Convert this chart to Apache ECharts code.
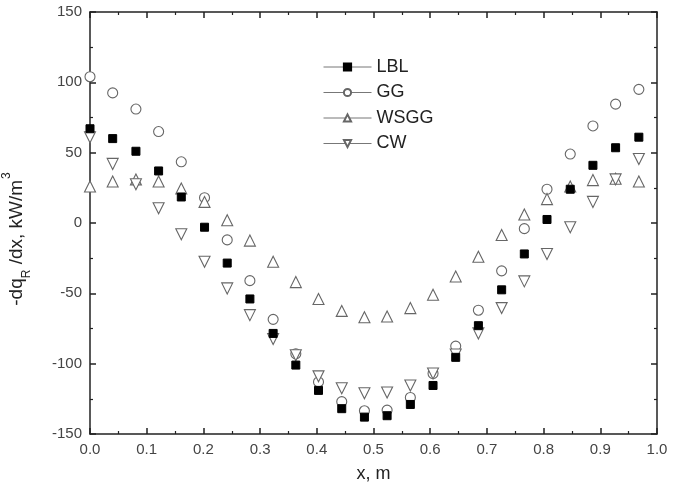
<!DOCTYPE html>
<html>
<head>
<meta charset="utf-8">
<script src="https://cdn.jsdelivr.net/npm/echarts@6/dist/echarts.min.js"></script>
<style>html,body{margin:0;padding:0;background:#fff}#chart{width:677px;height:492px}</style>
</head>
<body>
<div id="chart"></div>
<script>
// positions along x, m
var xPos=[0.0,0.040,0.081,0.121,0.161,0.202,0.242,0.282,0.323,0.363,0.403,0.444,0.484,0.524,0.565,0.605,0.645,0.685,0.726,0.766,0.806,0.847,0.887,0.927,0.968];
var lbl=[67,60,51,37,18.5,-3,-28.5,-54,-78.5,-101,-119,-132,-138,-137,-129,-115.5,-95.5,-73,-47.5,-22,2.5,24,41,53.5,61];
var gg=[104,92.5,81,65,43.5,18,-12,-41,-68.5,-93,-113,-127,-133.5,-133,-124,-107,-87.5,-62,-34,-4,24,49,69,84.5,95];
var wsgg=[26,29.5,31,29.5,24.5,15,2,-12.5,-27.5,-42,-54,-62.5,-67,-66.5,-60.5,-51,-38,-24,-8.5,6,17,26,30.5,31.5,29.5];
var cw=[61,42,27.5,10.5,-8,-27.5,-46.5,-65.5,-82.5,-94,-109,-117.5,-121,-120.5,-115.5,-107,-93.5,-78.5,-60.5,-41.5,-22,-3,15,31,45.5];
var seriesNames=['LBL','GG','WSGG','CW'];

function pairs(ys){
    var out=[];
    for(var i=0;i<ys.length;i++){ out.push([xPos[i],ys[i]]); }
    return out;
}

var chart=echarts.init(document.getElementById('chart'));
var font='"Liberation Sans", Arial, sans-serif';
var axisLineStyle={color:'#222',width:1.5};
var tick={inside:true,length:6,lineStyle:axisLineStyle};
var minor={show:true,splitNumber:2,length:3,lineStyle:{color:'#222',width:1.2}};

function mkSeries(name,ys,symbol,size,filled,rot){
    return {
        name:name,
        type:'line',
        data:pairs(ys),
        symbol:symbol,
        symbolSize:size,
        symbolRotate:rot||0,
        showAllSymbol:true,
        lineStyle:{opacity:0},
        itemStyle:filled?{color:'#000',borderColor:'#000',borderWidth:1}:{color:'#fff',borderColor:'#666',borderWidth:1.1},
        emphasis:{disabled:true},
        z:filled?3:2
    };
}

var options={
    animation:false,
    textStyle:{fontFamily:font},
    grid:{left:90,right:20,top:12,bottom:58,containLabel:false,outerBoundsMode:'none'},
    legend:{
        data:seriesNames,
        orient:'vertical',
        left:323,
        top:58,
        padding:0,
        itemWidth:48,
        itemHeight:9,
        itemGap:7.5,
        textStyle:{fontSize:18,color:'#222',fontFamily:font},
        lineStyle:{color:'#777',width:1,opacity:1}
    },
    xAxis:[{
        type:'value',min:0,max:1,interval:0.1,
        name:'x, m',nameLocation:'middle',nameGap:31,
        nameTextStyle:{fontSize:18,color:'#222'},
        axisLine:{onZero:false,lineStyle:axisLineStyle},
        axisTick:tick,minorTick:minor,
        axisLabel:{fontSize:15,color:'#444',margin:8,formatter:function(v){return v.toFixed(1);}},
        splitLine:{show:false}
    },{
        type:'value',min:0,max:1,interval:0.1,position:'top',
        axisLine:{onZero:false,lineStyle:axisLineStyle},
        axisTick:tick,minorTick:minor,
        axisLabel:{show:false},splitLine:{show:false}
    }],
    yAxis:[{
        type:'value',min:-150,max:150,interval:50,
        name:'-dq{sub|R} /dx, kW/m{sup|3}',nameLocation:'middle',nameGap:61,
        nameTextStyle:{fontSize:19,color:'#222',lineHeight:24,padding:[0,32,0,0],
            rich:{
                sub:{fontSize:12,verticalAlign:'bottom',lineHeight:24,padding:[0,0,-4,0]},
                sup:{fontSize:12,verticalAlign:'top',lineHeight:24,padding:[-4,0,0,1]}
            }},
        axisLine:{onZero:false,lineStyle:axisLineStyle},
        axisTick:tick,minorTick:minor,
        axisLabel:{fontSize:15,color:'#444',margin:8},
        splitLine:{show:false}
    },{
        type:'value',min:-150,max:150,interval:50,position:'right',
        axisLine:{onZero:false,lineStyle:axisLineStyle},
        axisTick:tick,minorTick:minor,
        axisLabel:{show:false},splitLine:{show:false}
    }],
    series:[
        mkSeries('LBL',lbl,'rect',8,true),
        mkSeries('GG',gg,'circle',10,false),
        mkSeries('WSGG',wsgg,'triangle',11,false),
        mkSeries('CW',cw,'triangle',11,false,180)
    ]
};
chart.setOption(options);
</script>
</body>
</html>
